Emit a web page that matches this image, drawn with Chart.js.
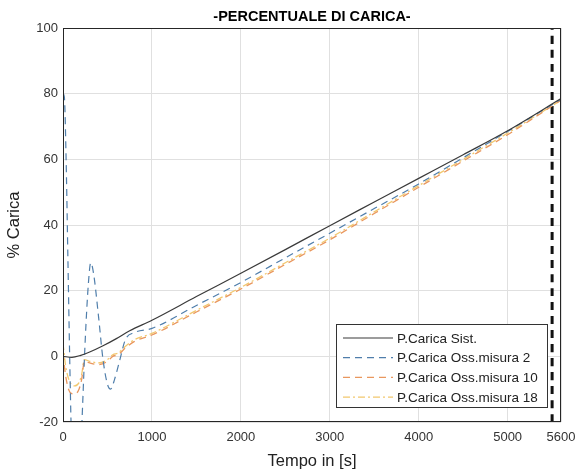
<!DOCTYPE html>
<html>
<head>
<meta charset="utf-8">
<script src="https://cdn.jsdelivr.net/npm/chart.js@4"></script>
<style>
  html, body { margin: 0; padding: 0; background: #fff; }
  #wrap { width: 577px; height: 469px; }
</style>
</head>
<body>
<div id="wrap"><canvas id="carica" width="577" height="469"></canvas></div>
<script>
// --- dati ---
const xTicks = [0, 1000, 2000, 3000, 4000, 5000, 5600];
const yTicks = [-20, 0, 20, 40, 60, 80, 100];

const tSist = [0, 100, 200, 300, 450, 600, 750, 1000, 1500, 2000, 2500, 3000, 3500, 4000, 4500, 5000, 5600];
const pSist = [0, -0.3, 0.3, 1.3, 3.2, 5.4, 7.8, 11, 18.2, 25.3, 32.5, 39.8, 47, 54.2, 61.4, 68.7, 78.5];

const tMis2 = [0, 15, 35, 55, 75, 95, 130, 170, 210, 250, 285, 312, 345, 400, 450, 500, 535, 580, 640, 700, 800, 1000, 1500, 2000, 2500, 3000, 3500, 4000, 4500, 5000, 5600];
const pMis2 = [80, 79, 60, 30, 0, -25, -45, -45, -22, 5, 22, 28.5, 25, 12, -1, -8.5, -10, -7, -1, 5, 7.2, 8.5, 15.5, 22.5, 30, 37.5, 45, 52.5, 60.5, 68.5, 78.3];

const tMis10 = [0, 30, 80, 130, 180, 210, 240, 300, 400, 500, 560, 620, 700, 800, 1000, 1500, 2000, 2500, 3000, 3500, 4000, 4500, 5000, 5600];
const pMis10 = [1, -6, -11, -11.5, -10, -7, -1.5, -2, -2.5, -1.5, 0, 0.5, 2.5, 4.5, 6.5, 13.5, 20.5, 28, 35.5, 43.5, 51.5, 59.5, 67.5, 78];

const tMis18 = [0, 30, 80, 130, 180, 210, 240, 300, 400, 500, 560, 620, 700, 800, 1000, 1500, 2000, 2500, 3000, 3500, 4000, 4500, 5000, 5600];
const pMis18 = [4, -3, -8, -9, -8, -5.5, -1, -1.5, -2, -1, 0.5, 1, 3, 5, 7, 14, 21, 28.5, 36, 44, 52, 60, 68, 78];

// linea verticale tratteggiata (fine prova)
const tLimite = [5500, 5500];
const pLimite = [-20, 100];

const FONT = "'Liberation Sans', Arial, sans-serif";

function punti(t, p) {
    return t.map((x, i) => ({ x: x, y: p[i] }));
}

// legenda dentro l'area del grafico, come in MATLAB
const legendaInterna = {
    id: 'legendaInterna',
    afterDatasetsDraw(chart) {
        const ctx = chart.ctx;
        const a = chart.chartArea;
        // cornice degli assi
        ctx.save();
        ctx.strokeStyle = '#262626';
        ctx.lineWidth = 1;
        ctx.strokeRect(a.left + 0.5, a.top + 0.5, a.right - a.left - 1, a.bottom - a.top - 1);

        // titolo
        ctx.fillStyle = '#000';
        ctx.font = 'bold 14.5px ' + FONT;
        ctx.textAlign = 'center';
        ctx.textBaseline = 'middle';
        ctx.fillText('-PERCENTUALE DI CARICA-', (a.left + a.right) / 2, 17);

        const voci = chart.data.datasets.filter(d => d.label);
        const x0 = 336, y0 = 324, w = 211, h = 83;
        ctx.fillStyle = '#fff';
        ctx.fillRect(x0, y0, w, h);
        ctx.strokeStyle = '#333';
        ctx.strokeRect(x0 + 0.5, y0 + 0.5, w, h);
        ctx.font = '13.5px ' + FONT;
        ctx.textAlign = 'left';
        voci.forEach((d, i) => {
            const y = y0 + 14 + i * 19.7;
            ctx.beginPath();
            ctx.setLineDash(d.borderDash || []);
            ctx.strokeStyle = d.borderColor;
            ctx.lineWidth = d.borderWidth;
            ctx.moveTo(x0 + 7, y);
            ctx.lineTo(x0 + 57, y);
            ctx.stroke();
            ctx.setLineDash([]);
            ctx.fillStyle = '#222';
            ctx.fillText(d.label, x0 + 61, y + 1);
        });
        ctx.restore();
    }
};

new Chart(document.getElementById('carica').getContext('2d'), {
    type: 'line',
    data: {
        datasets: [
            { label: 'P.Carica Sist.', data: punti(tSist, pSist), borderColor: '#3a3a3a', borderWidth: 1.2 },
            { label: 'P.Carica Oss.misura 2', data: punti(tMis2, pMis2), borderColor: '#4f7eab', borderWidth: 1.2, borderDash: [7, 5] },
            { label: 'P.Carica Oss.misura 10', data: punti(tMis10, pMis10), borderColor: '#e9975e', borderWidth: 1.3, borderDash: [7, 5] },
            { label: 'P.Carica Oss.misura 18', data: punti(tMis18, pMis18), borderColor: '#f2c86e', borderWidth: 1.3, borderDash: [7, 3, 2, 3] },
            { label: '', data: punti(tLimite, pLimite), borderColor: '#111', borderWidth: 3, borderDash: [8, 6] }
        ]
    },
    options: {
        responsive: false,
        animation: false,
        layout: { padding: { left: 0, right: 16, top: 28, bottom: 0 } },
        elements: { point: { radius: 0 }, line: { cubicInterpolationMode: 'monotone' } },
        plugins: {
            legend: { display: false },
            title: { display: false },
            tooltip: { enabled: false }
        },
        scales: {
            x: {
                type: 'linear',
                min: 0,
                max: 5600,
                afterBuildTicks: s => { s.ticks = xTicks.map(v => ({ value: v })); },
                afterFit: s => { s.height = 47; s.paddingLeft = 0; s.paddingRight = 0; },
                grid: { color: '#e0e0e0', drawTicks: false },
                border: { display: false },
                ticks: { color: '#333', font: { family: FONT, size: 13 }, padding: 8, maxRotation: 0, autoSkip: false, callback: v => String(v) },
                title: { display: true, text: 'Tempo in [s]', color: '#222', font: { family: FONT, size: 16.5 }, padding: { top: 0, bottom: -2 } }
            },
            y: {
                min: -20,
                max: 100,
                afterBuildTicks: s => { s.ticks = yTicks.map(v => ({ value: v })); },
                afterFit: s => { s.width = 63; },
                grid: { color: '#e0e0e0', drawTicks: false },
                border: { display: false },
                ticks: { color: '#333', font: { family: FONT, size: 13 }, padding: 5, callback: v => String(v) },
                title: { display: true, text: '% Carica', color: '#222', font: { family: FONT, size: 16.5 }, padding: { top: 5, bottom: 0 } }
            }
        }
    },
    plugins: [legendaInterna]
});
</script>
</body>
</html>
